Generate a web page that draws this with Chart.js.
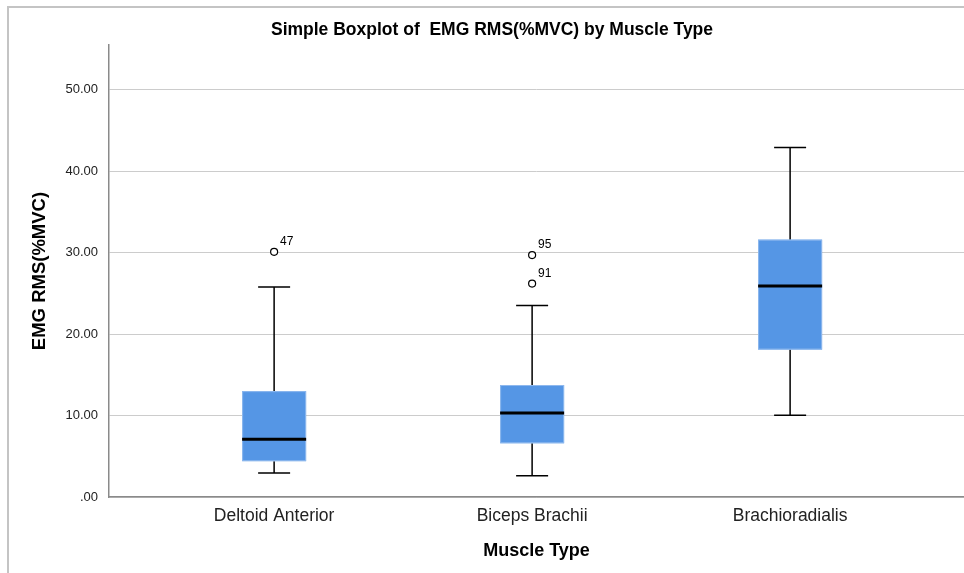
<!DOCTYPE html>
<html>
<head>
<meta charset="utf-8">
<script src="https://cdn.jsdelivr.net/npm/chart.js@4"></script>
<style>
  html, body { margin: 0; padding: 0; background: #fff; }
  .wrap { position: relative; width: 964px; height: 573px; }
  .frame { position: absolute; left: 7px; top: 6px; right: 0; bottom: 0;
           border-left: 2px solid #c4c4c4; border-top: 2px solid #c4c4c4; }
  canvas { position: absolute; left: 0; top: 0; }
</style>
</head>
<body>
<div class="wrap">
  <div class="frame"></div>
  <canvas id="chart" width="964" height="573"></canvas>
</div>
<script>
// данные боксплота
const muscles = ['Deltoid Anterior', 'Biceps Brachii', 'Brachioradialis'];
const whiskerLow = [2.95, 2.6, 10.05];
const q1 = [4.4, 6.6, 18.1];
const median = [7.1, 10.3, 25.9];
const q3 = [13.0, 13.75, 31.6];
const whiskerHigh = [25.8, 23.5, 42.9];
// выбросы: индекс категории, значение, номер наблюдения
const outlierCat = [0, 1, 1];
const outlierVal = [30.1, 29.7, 26.2];
const outlierId = ['47', '95', '91'];
const yTicks = [0, 10, 20, 30, 40, 50];

const font = 'Liberation Sans, Arial, sans-serif';

// рисуем ящики с усами через шкалы chart.js
const boxPlugin = {
  id: 'boxes',
  beforeDatasetsDraw(chart) {
    const ctx = chart.ctx;
    const x = chart.scales.x, y = chart.scales.y;
    ctx.save();
    muscles.forEach((m, i) => {
      const xc = x.getPixelForValue(i);
      const half = 32, cap = 16;
      // усы
      ctx.strokeStyle = '#000';
      ctx.lineWidth = 1.5;
      ctx.beginPath();
      ctx.moveTo(xc, y.getPixelForValue(whiskerLow[i]));
      ctx.lineTo(xc, y.getPixelForValue(q1[i]));
      ctx.moveTo(xc, y.getPixelForValue(q3[i]));
      ctx.lineTo(xc, y.getPixelForValue(whiskerHigh[i]));
      ctx.moveTo(xc - cap, y.getPixelForValue(whiskerLow[i]));
      ctx.lineTo(xc + cap, y.getPixelForValue(whiskerLow[i]));
      ctx.moveTo(xc - cap, y.getPixelForValue(whiskerHigh[i]));
      ctx.lineTo(xc + cap, y.getPixelForValue(whiskerHigh[i]));
      ctx.stroke();
      // ящик
      const top = y.getPixelForValue(q3[i]);
      const bot = y.getPixelForValue(q1[i]);
      ctx.fillStyle = '#5596e5';
      ctx.fillRect(xc - half, top, half * 2, bot - top);
      ctx.strokeStyle = '#8fb9ee';
      ctx.lineWidth = 1;
      ctx.strokeRect(xc - half + 0.5, top + 0.5, half * 2 - 1, bot - top - 1);
      // медиана
      ctx.strokeStyle = '#000';
      ctx.lineWidth = 3;
      ctx.beginPath();
      ctx.moveTo(xc - half, y.getPixelForValue(median[i]));
      ctx.lineTo(xc + half, y.getPixelForValue(median[i]));
      ctx.stroke();
    });
    ctx.restore();
  },
  afterDatasetsDraw(chart) {
    const ctx = chart.ctx;
    const meta = chart.getDatasetMeta(0);
    ctx.save();
    ctx.fillStyle = '#000';
    ctx.font = '12px ' + font;
    ctx.textAlign = 'left';
    ctx.textBaseline = 'alphabetic';
    meta.data.forEach((pt, k) => {
      ctx.fillText(outlierId[k], pt.x + 6, pt.y - 7);
    });
    ctx.restore();
  }
};

new Chart(document.getElementById('chart'), {
  type: 'scatter',
  data: {
    datasets: [{
      label: 'outliers',
      data: outlierCat.map((c, k) => ({ x: c, y: outlierVal[k] })),
      pointRadius: 3.5,
      pointBackgroundColor: '#fff',
      pointBorderColor: '#000',
      pointBorderWidth: 1.2
    }]
  },
  options: {
    responsive: false,
    animation: false,
    layout: { autoPadding: false, padding: { left: 20, right: 0, top: 0, bottom: 0 } },
    plugins: {
      legend: { display: false },
      tooltip: { enabled: false },
      title: {
        display: true,
        text: 'Simple Boxplot of  EMG RMS(%MVC) by Muscle Type',
        color: '#000',
        font: { family: font, size: 17.5, weight: 'bold' },
        padding: { top: 20, bottom: 4 }
      }
    },
    scales: {
      x: {
        type: 'linear',
        min: -0.64,
        max: 2.674,
        afterBuildTicks(s) { s.ticks = muscles.map((m, i) => ({ value: i })); },
        ticks: {
          callback: v => muscles[v],
          color: '#222',
          font: { family: font, size: 17.5 },
          padding: 9,
          maxRotation: 0
        },
        grid: { display: false, drawTicks: false },
        border: { display: true, color: '#8a8a8a', width: 1.5 },
        title: {
          display: true,
          text: 'Muscle Type',
          color: '#000',
          font: { family: font, size: 18, weight: 'bold' },
          padding: { top: 4, bottom: 11 }
        },
        afterFit(s) { s.height = 76; s.paddingLeft = 0; s.paddingRight = 0; }
      },
      y: {
        min: 0,
        max: 55.5,
        afterBuildTicks(s) { s.ticks = yTicks.map(v => ({ value: v })); },
        ticks: {
          callback: v => v === 0 ? '.00' : v.toFixed(2),
          color: '#222',
          font: { family: font, size: 13 },
          padding: 11
        },
        grid: { color: '#cccccc', lineWidth: 1, drawTicks: false },
        border: { display: true, color: '#8a8a8a', width: 1.5 },
        title: {
          display: true,
          text: 'EMG RMS(%MVC)',
          color: '#000',
          font: { family: font, size: 18.5, weight: 'bold' },
          padding: { top: 9, bottom: 0 }
        },
        afterFit(s) { s.width = 89; s.paddingTop = 0; s.paddingBottom = 0; }
      }
    }
  },
  plugins: [boxPlugin]
});
</script>
</body>
</html>
